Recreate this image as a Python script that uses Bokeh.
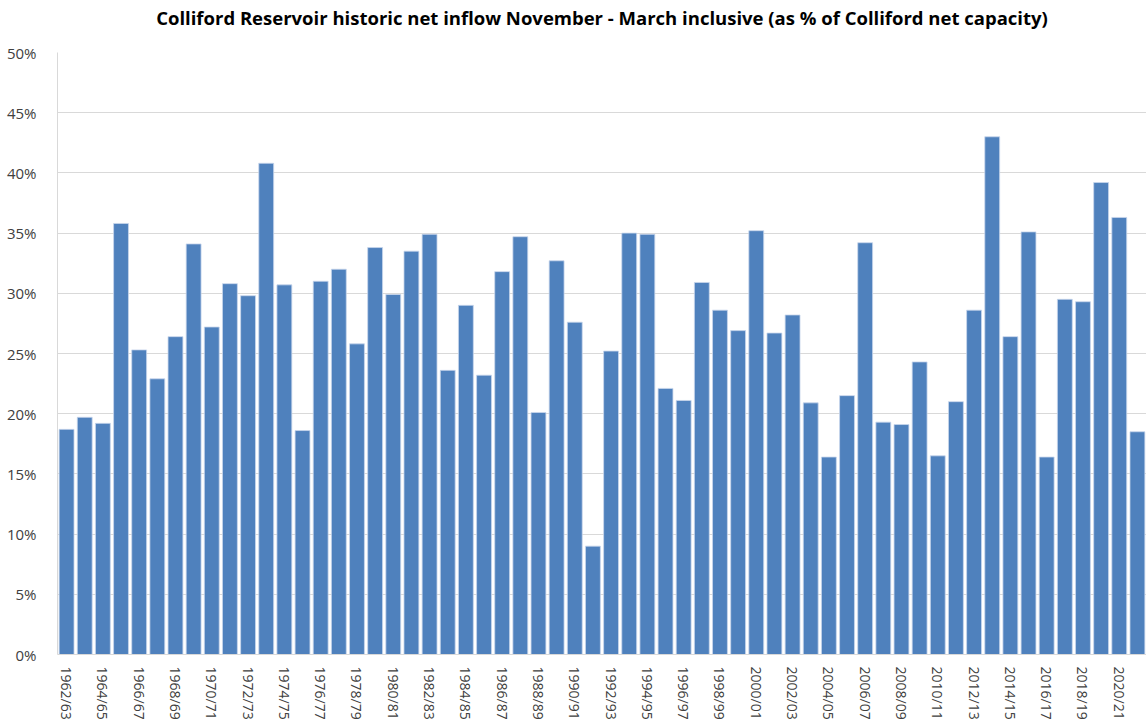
from bokeh.plotting import figure
from bokeh.models import Range1d, FixedTicker, PrintfTickFormatter, Title
from bokeh.embed import file_html
from bokeh.resources import INLINE

seasons = [f"{y}/{str(y + 1)[-2:]}" for y in range(1962, 2022)]
inflow_pct = [
    18.7, 19.7, 19.2, 35.8, 25.3, 22.9, 26.4, 34.1, 27.2, 30.8,
    29.8, 40.8, 30.7, 18.6, 31.0, 32.0, 25.8, 33.8, 29.9, 33.5,
    34.9, 23.6, 29.0, 23.2, 31.8, 34.7, 20.1, 32.7, 27.6, 9.0,
    25.2, 35.0, 34.9, 22.1, 21.1, 30.9, 28.6, 26.9, 35.2, 26.7,
    28.2, 20.9, 16.4, 21.5, 34.2, 19.3, 19.1, 24.3, 16.5, 21.0,
    28.6, 43.0, 26.4, 35.1, 16.4, 29.5, 29.3, 39.2, 36.3, 18.5,
]
y_ticks = list(range(0, 51, 5))
title_text = "Colliford Reservoir historic net inflow November - March inclusive (as % of Colliford net capacity)"

idx = list(range(len(seasons)))

p = figure(width=1146, height=722, output_backend="svg", toolbar_location=None,
           x_range=Range1d(-0.5, len(seasons) - 0.5), y_range=Range1d(0, 50),
           min_border_left=57, min_border_right=0, min_border_top=0, min_border_bottom=10)
p.title = None
# spacer panel between the frame and the title
p.add_layout(Title(text=" ", text_font_size="10px", standoff=8), "above")
p.add_layout(Title(text=title_text, align="center", text_font="Open Sans",
                   text_font_size="18.5px", text_font_style="bold", text_color="#000000",
                   standoff=4), "above")

p.vbar(x=idx, top=inflow_pct, width=0.82, fill_color="#4F81BD",
       line_color="#c9d7ec", line_width=0.8)

p.xaxis.ticker = FixedTicker(ticks=idx[::2])
p.xaxis.major_label_overrides = {i: seasons[i] for i in idx[::2]}
p.xaxis.major_label_orientation = "vertical"
p.yaxis.ticker = FixedTicker(ticks=y_ticks)
p.yaxis.formatter = PrintfTickFormatter(format="%d%%")

for ax in (p.xaxis, p.yaxis):
    ax.axis_line_color = "#d9d9d9"
    ax.major_tick_line_color = None
    ax.minor_tick_line_color = None
    ax.major_label_text_font = "Open Sans"
    ax.major_label_text_color = "#404040"
p.yaxis.major_label_text_font_size = "15px"
p.xaxis.major_label_text_font_size = "14px"
p.xaxis.major_label_standoff = 6
p.yaxis.major_label_standoff = 15

p.xgrid.grid_line_color = None
p.ygrid.grid_line_color = "#d9d9d9"
p.outline_line_color = None
p.background_fill_color = "white"
p.border_fill_color = "white"

open("out.html", "w").write(file_html(p, INLINE))
